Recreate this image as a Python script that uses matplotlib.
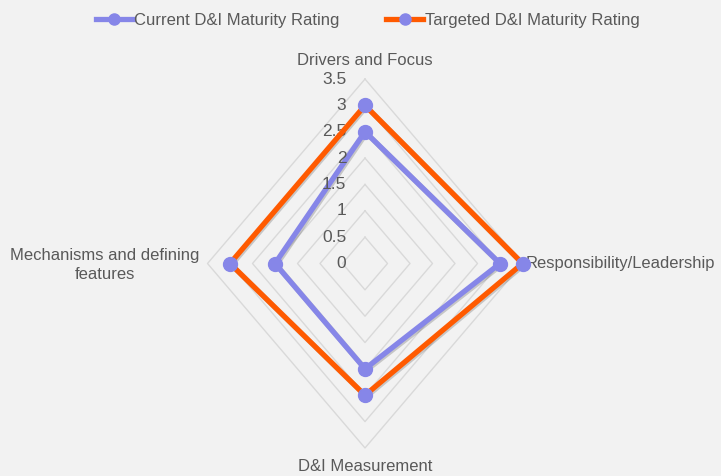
import matplotlib.pyplot as plt
import matplotlib.patheffects as pe
from matplotlib.lines import Line2D
import numpy as np

# radar data
categories = ['Drivers and Focus', 'Responsibility/Leadership', 'D&I Measurement',
              'Mechanisms and defining\nfeatures']
current = [2.5, 3.0, 2.0, 2.0]
targeted = [3.0, 3.5, 2.5, 3.0]
ticks = [0, 0.5, 1, 1.5, 2, 2.5, 3, 3.5]
tick_labels = ['0', '0.5', '1', '1.5', '2', '2.5', '3', '3.5']
series_names = ['Current D&I Maturity Rating', 'Targeted D&I Maturity Rating']

bg = '#f2f2f2'
c_cur = '#8686e8'
c_tgt = '#ff5a00'
txt = '#595959'
font = ['Liberation Sans', 'DejaVu Sans']

angles = np.arange(len(categories)) * 2 * np.pi / len(categories)

def to_xy(vals):
    vals = np.asarray(vals, dtype=float)
    x = vals * np.sin(angles)
    y = vals * np.cos(angles)
    return np.append(x, x[0]), np.append(y, y[0])

fig = plt.figure(figsize=(7.21, 4.76), dpi=100, facecolor=bg)
ax = fig.add_axes([185 / 721, 1.7 / 476, 360 / 721, 421.6 / 476])
ax.set_facecolor(bg)
ax.set_xlim(-4, 4)
ax.set_ylim(-4, 4)
ax.axis('off')

# diamond grid
for t in ticks[1:]:
    gx, gy = to_xy([t] * len(categories))
    ax.plot(gx, gy, color='#d9d9d9', lw=1.0, zorder=1)

shadow = [pe.SimpleLineShadow(offset=(1, -1), alpha=0.18), pe.Normal()]

cx, cy = to_xy(current)
ax.plot(cx, cy, color=c_cur, lw=3.8, zorder=3, solid_joinstyle='miter',
        path_effects=shadow)
tx, ty = to_xy(targeted)
ax.plot(tx, ty, color=c_tgt, lw=3.8, zorder=4, solid_joinstyle='miter',
        path_effects=shadow)
ax.plot(cx[:-1], cy[:-1], 'o', color=c_cur, ms=10, zorder=5)
ax.plot(tx[:-1], ty[:-1], 'o', color=c_cur, ms=10, zorder=5)

# value labels on the vertical axis
for t, lab in zip(ticks, tick_labels):
    ax.annotate(lab, (0, t), xytext=(-13.5, 0), textcoords='offset points',
                ha='right', va='center', fontsize=12.5, color=txt, family=font)

# category labels
ax.annotate(categories[0], (0, 3.5), xytext=(0, 8), textcoords='offset points',
            ha='center', va='bottom', fontsize=12, color=txt, family=font)
ax.annotate(categories[1], (3.5, 0), xytext=(2.5, 0), textcoords='offset points',
            ha='left', va='center', fontsize=11.9, color=txt, family=font)
ax.annotate(categories[2], (0, -3.5), xytext=(0, -8), textcoords='offset points',
            ha='center', va='top', fontsize=12, color=txt, family=font)
ax.annotate(categories[3], (-3.5, 0), xytext=(-6, -1), textcoords='offset points',
            ha='right', va='center', fontsize=12, color=txt, family=font,
            multialignment='center', linespacing=1.3)

# legend
handles = [Line2D([], [], color=c_cur, lw=3.8, marker='o', ms=8, mfc=c_cur, mec=c_cur),
           Line2D([], [], color=c_tgt, lw=3.8, marker='o', ms=8, mfc=c_cur, mec=c_cur)]
fig.legend(handles, series_names, loc='upper center', bbox_to_anchor=(0.51, 1.005),
           ncol=2, frameon=False, handlelength=2.2, handletextpad=0.1,
           columnspacing=2.8, prop={'family': font, 'size': 12},
           labelcolor=txt)

fig.savefig('out.png', dpi=100, facecolor=bg)
